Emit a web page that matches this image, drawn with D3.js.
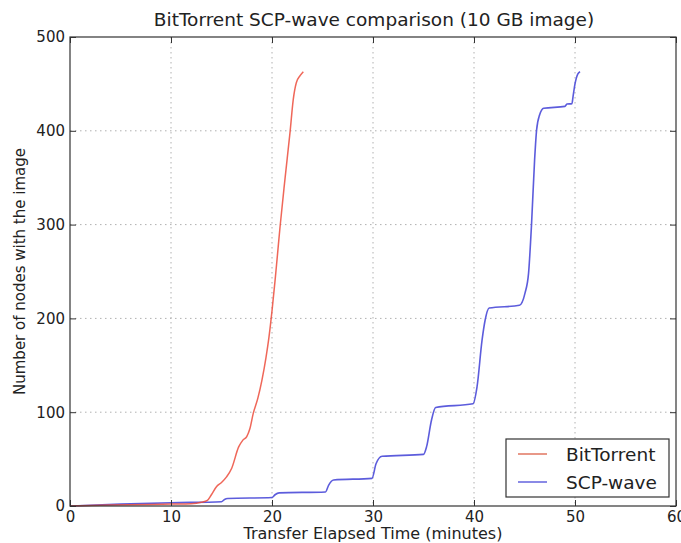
<!DOCTYPE html>
<html><head><meta charset="utf-8">
<script src="https://cdn.jsdelivr.net/npm/d3@7"></script>
<style>body{margin:0;background:#fff}svg{display:block}text{font-family:"DejaVu Sans",sans-serif;fill:#222}</style>
</head><body><svg id="c" width="681" height="543"></svg>
<script>
const xTicks=[0,10,20,30,40,50,60];
const yTicks=[0,100,200,300,400,500];
const seriesNames=["BitTorrent","SCP-wave"];
const btTime=[0,4,8,10,12,13,13.6,14.0,14.5,15.0,15.5,16.0,16.7,17.1,17.5,17.8,18.15,18.6,19.0,19.4,19.7,20.0,20.3,20.5,20.8,21.3,21.8,22.1,22.4,22.8,23.1];
const btNodes=[0,1,1.5,2,2.5,4,6,12,20.6,25,31,40,63,70,74,82,99,115,134,158,180,208,240,263,298,350,400,433,451,459,463];
const scpTime=[0,5,10,15.0,15.3,15.6,20.0,20.3,20.7,25.3,25.6,26.1,29.9,30.3,30.9,35.0,35.3,35.8,36.2,39.9,40.3,40.8,41.1,41.5,44.5,45.05,45.4,45.7,46.0,46.2,46.5,46.9,49.0,49.2,49.7,49.8,50.0,50.3,50.5];
const scpNodes=[0,2,3.5,4.6,7,8,9,12,14,15,22,27.7,29.5,45,53,55,63,92,105,109,127,177,198,211,214,227,248,301,369,401,417,424,426,428.5,429,436,450,461,463];

const svg=d3.select("#c");
const L=70,R=676,T=37,B=506;
const x=d3.scaleLinear().domain([0,60]).range([L,R]);
const y=d3.scaleLinear().domain([0,500]).range([B,T]);

// grid
svg.append("g").selectAll("line").data(xTicks.slice(1,-1)).join("line")
 .attr("x1",d=>x(d)).attr("x2",d=>x(d)).attr("y1",T).attr("y2",B)
 .attr("stroke","#b0b0b0").attr("stroke-dasharray","1.5,3.5").attr("stroke-width",1);
svg.append("g").selectAll("line").data(yTicks.slice(1,-1)).join("line")
 .attr("y1",d=>y(d)).attr("y2",d=>y(d)).attr("x1",L).attr("x2",R)
 .attr("stroke","#b0b0b0").attr("stroke-dasharray","1.5,3.5").attr("stroke-width",1);

const line=d3.line().x(d=>x(d[0])).y(d=>y(d[1])).curve(d3.curveMonotoneX);
svg.append("path").datum(scpTime.map((t,i)=>[t,scpNodes[i]])).attr("d",line)
 .attr("fill","none").attr("stroke","#4a4ad8").attr("stroke-width",1.6).attr("opacity",0.9);
svg.append("path").datum(btTime.map((t,i)=>[t,btNodes[i]])).attr("d",line)
 .attr("fill","none").attr("stroke","#ec4c3c").attr("stroke-width",1.5).attr("opacity",0.85);

// axes
const ax=svg.append("g").attr("transform",`translate(0,${B})`).call(d3.axisBottom(x).tickValues(xTicks).tickSize(-6).tickPadding(5));
const ax2=svg.append("g").attr("transform",`translate(0,${T})`).call(d3.axisTop(x).tickValues(xTicks).tickSize(-6).tickFormat(""));
const ay=svg.append("g").attr("transform",`translate(${L},0)`).call(d3.axisLeft(y).tickValues(yTicks).tickSize(-6).tickPadding(5));
const ay2=svg.append("g").attr("transform",`translate(${R},0)`).call(d3.axisRight(y).tickValues(yTicks).tickSize(-6).tickFormat(""));
[ax,ax2,ay,ay2].forEach(g=>{g.select(".domain").remove();g.selectAll("line").attr("stroke","#333");g.selectAll("text").style("font-family","DejaVu Sans").style("font-size","15px").attr("fill","#222");});
svg.append("rect").attr("x",L).attr("y",T).attr("width",R-L).attr("height",B-T).attr("fill","none").attr("stroke","#333").attr("stroke-width",1.2);

svg.append("text").attr("x",374).attr("y",26).attr("text-anchor","middle").style("font-size","18.5px").text("BitTorrent SCP-wave comparison (10 GB image)");
svg.append("text").attr("x",373).attr("y",539).attr("text-anchor","middle").style("font-size","16px").text("Transfer Elapsed Time (minutes)");
svg.append("text").attr("transform",`translate(25,${(T+B)/2}) rotate(-90)`).attr("text-anchor","middle").style("font-size","15px").text("Number of nodes with the image");

// legend
const lg=svg.append("g");
lg.append("rect").attr("x",506).attr("y",439).attr("width",163).attr("height",58).attr("fill","#fff").attr("stroke","#333").attr("stroke-width",1.2);
const cols=["#e89888","#8a8ae6"];
seriesNames.forEach((n,i)=>{
 const yy=454+i*28;
 lg.append("line").attr("x1",518).attr("x2",547).attr("y1",yy).attr("y2",yy).attr("stroke",cols[i]).attr("stroke-width",2);
 lg.append("text").attr("x",566).attr("y",yy+7).style("font-size","18.5px").text(n);
});
</script></body></html>
